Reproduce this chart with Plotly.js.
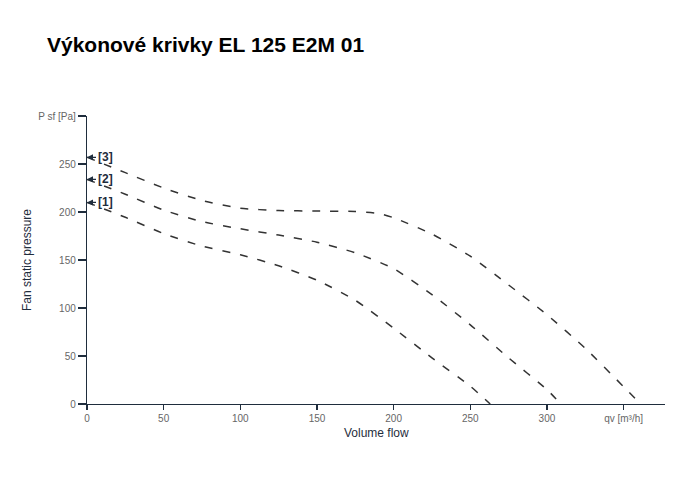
<!DOCTYPE html>
<html>
<head>
<meta charset="utf-8">
<script src="https://cdn.plot.ly/plotly-3.0.1.min.js"></script>
<style>html,body{margin:0;padding:0;background:#fff;}#chart{width:680px;height:500px;}</style>
</head>
<body>
<div id="chart"></div>
<script>
// Curve [1]
var flow1 = [0, 25, 50, 75, 100, 125, 150, 175, 200, 225, 250, 263];
var pres1 = [210, 194.5, 177.5, 164.5, 155.5, 144, 129, 108, 79, 48, 18.5, 0];
// Curve [2]
var flow2 = [0, 25, 50, 75, 100, 125, 150, 175, 200, 225, 250, 275, 300, 309];
var pres2 = [234, 218.5, 202, 190, 182.5, 176, 168.5, 157.5, 141, 114, 82.5, 48, 15, 0];
// Curve [3]
var flow3 = [0, 25, 50, 75, 100, 125, 150, 175, 190, 200, 225, 250, 275, 300, 325, 350, 361];
var pres3 = [257, 241, 225, 212, 204, 201.5, 201, 200.5, 198.5, 194, 177, 154, 124, 93, 58, 18, 0];

var curveLabels = ['[1]', '[2]', '[3]'];
var xTickVals = [0, 50, 100, 150, 200, 250, 300, 350];
var xTickText = ['0', '50', '100', '150', '200', '250', '300', 'qv [m³/h]'];
var yTickVals = [0, 50, 100, 150, 200, 250, 300];
var yTickText = ['0', '50', '100', '150', '200', '250', 'P sf [Pa]'];

var FONT = 'Liberation Sans, Arial, sans-serif';
var lineStyle = {color: '#333333', width: 1.5, dash: '8px,10px', shape: 'spline', smoothing: 0.6};
var flows = [flow1, flow2, flow3];
var press = [pres1, pres2, pres3];

var traces = flows.map(function (f, i) {
  return {x: f, y: press[i], type: 'scatter', mode: 'lines', line: lineStyle,
          name: curveLabels[i], hoverinfo: 'none', cliponaxis: false};
});

var annotations = curveLabels.map(function (lab, i) {
  return {x: flows[i][0], y: press[i][0], xref: 'x', yref: 'y', text: '<b>' + lab + '</b>',
          showarrow: true, arrowhead: 2, arrowsize: 1, arrowwidth: 1.2, arrowcolor: '#1f2d3d',
          ax: 18, ay: 0, font: {family: FONT, size: 12, color: '#1f2d3d'}};
});
annotations.push({text: 'Fan static pressure', xref: 'paper', yref: 'paper', x: 0, y: 0.5,
  xshift: -60, textangle: -90, showarrow: false, xanchor: 'center', yanchor: 'middle',
  font: {family: FONT, size: 12, color: '#1f2d3d'}});
annotations.push({text: 'Volume flow', xref: 'paper', yref: 'paper', x: 0.5, y: 0,
  yshift: -29, showarrow: false, xanchor: 'center', yanchor: 'middle',
  font: {family: FONT, size: 12, color: '#1f2d3d'}});

var axisCommon = {
  showgrid: false, zeroline: false, showline: true, linecolor: '#1f2d3d', linewidth: 1.2,
  ticks: 'outside', ticklen: 7, tickwidth: 1.2, tickcolor: '#1f2d3d',
  tickfont: {family: FONT, size: 10, color: '#666666'},
  tickmode: 'array', fixedrange: true
};

var layout = {
  width: 680, height: 500,
  margin: {l: 87, r: 15, t: 116, b: 96},
  paper_bgcolor: '#ffffff', plot_bgcolor: '#ffffff',
  showlegend: false,
  title: {text: '<b>Výkonové krivky EL 125 E2M 01</b>', x: 47 / 680, xanchor: 'left', y: 1 - 45 / 500, yanchor: 'middle',
          xref: 'container', yref: 'container', font: {family: FONT, size: 21, color: '#000000'}},
  xaxis: Object.assign({}, axisCommon, {range: [0, 377], tickvals: xTickVals, ticktext: xTickText, ticklen: 5}),
  yaxis: Object.assign({}, axisCommon, {range: [0, 300], tickvals: yTickVals, ticktext: yTickText, ticklen: 8}),
  annotations: annotations
};

Plotly.newPlot('chart', traces, layout, {displayModeBar: false, staticPlot: true});
</script>
</body>
</html>
